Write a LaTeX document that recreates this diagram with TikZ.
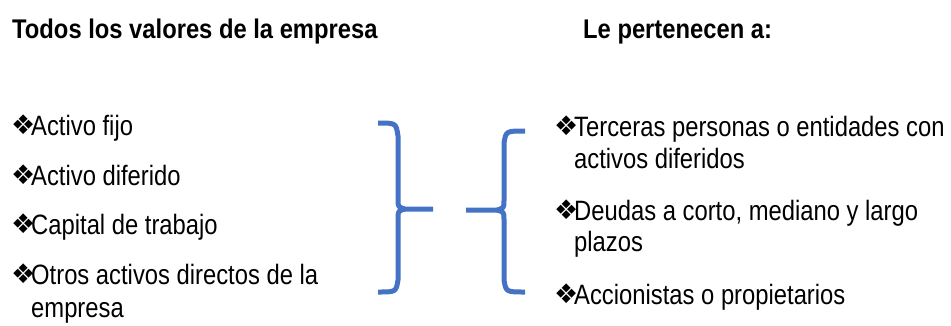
\documentclass[tikz,border=0pt]{standalone}
\usepackage{fontspec}
\setmainfont[FakeStretch=0.85]{Liberation Sans}
\newfontfamily\ttlfont[FakeStretch=0.88]{Liberation Sans}
\newfontfamily\bulfont{DejaVu Sans}
\definecolor{braceblue}{HTML}{4472C4}
\tikzset{
  txt/.style={anchor=base west, inner sep=0pt, font=\fontsize{28}{32}\selectfont},
  ttl/.style={anchor=base west, inner sep=0pt, font=\fontsize{27}{30}\ttlfont\bfseries},
  bul/.style={anchor=base west, inner sep=0pt, font=\fontsize{27}{30}\bulfont},
  brace/.style={draw=braceblue, line width=5pt, line cap=butt, line join=round}
}
\begin{document}
\begin{tikzpicture}[x=1pt,y=-1pt]
\useasboundingbox (0,0) rectangle (951,325);
% titles
\node[ttl] (t1) at (12,38) {Todos los valores de la empresa};
\node[ttl] (t2) at (583,38) {Le pertenecen a:};
% left list
\node[bul] (lb1) at (11,134) {❖};
\node[txt] (l1) at (31,135) {Activo fijo};
\node[bul] (lb2) at (11,184) {❖};
\node[txt] (l2) at (31,185) {Activo diferido};
\node[bul] (lb3) at (11,233) {❖};
\node[txt] (l3) at (31,234) {Capital de trabajo};
\node[bul] (lb4) at (11,283) {❖};
\node[txt] (l4) at (31,284) {Otros activos directos de la};
\node[txt] (l4b) at (31,317) {empresa};
% right list
\node[bul] (rb1) at (554,135) {❖};
\node[txt] (r1) at (574,136) {Terceras personas o entidades con};
\node[txt] (r1b) at (574,168) {activos diferidos};
\node[bul] (rb2) at (554,219) {❖};
\node[txt] (r2) at (574,220) {Deudas a corto, mediano y largo};
\node[txt] (r2b) at (574,251) {plazos};
\node[bul] (rb3) at (554,303) {❖};
\node[txt] (r3) at (574,304) {Accionistas o propietarios};
% left brace
\draw[brace] (378,123) .. controls (396,123) .. (398,136) -- (398,199)
  .. controls (398,207) .. (405,209) -- (433,209);
\draw[brace] (405,209) .. controls (398,211) .. (398,219) -- (398,280)
  .. controls (396,292) .. (378,292);
% right brace
\draw[brace] (466,210) -- (497,210) .. controls (504,208) .. (504,200) -- (504,143)
  .. controls (506,131) .. (525,131);
\draw[brace] (497,210) .. controls (504,212) .. (504,220) -- (504,280)
  .. controls (506,292) .. (525,292);
\end{tikzpicture}
\end{document}
